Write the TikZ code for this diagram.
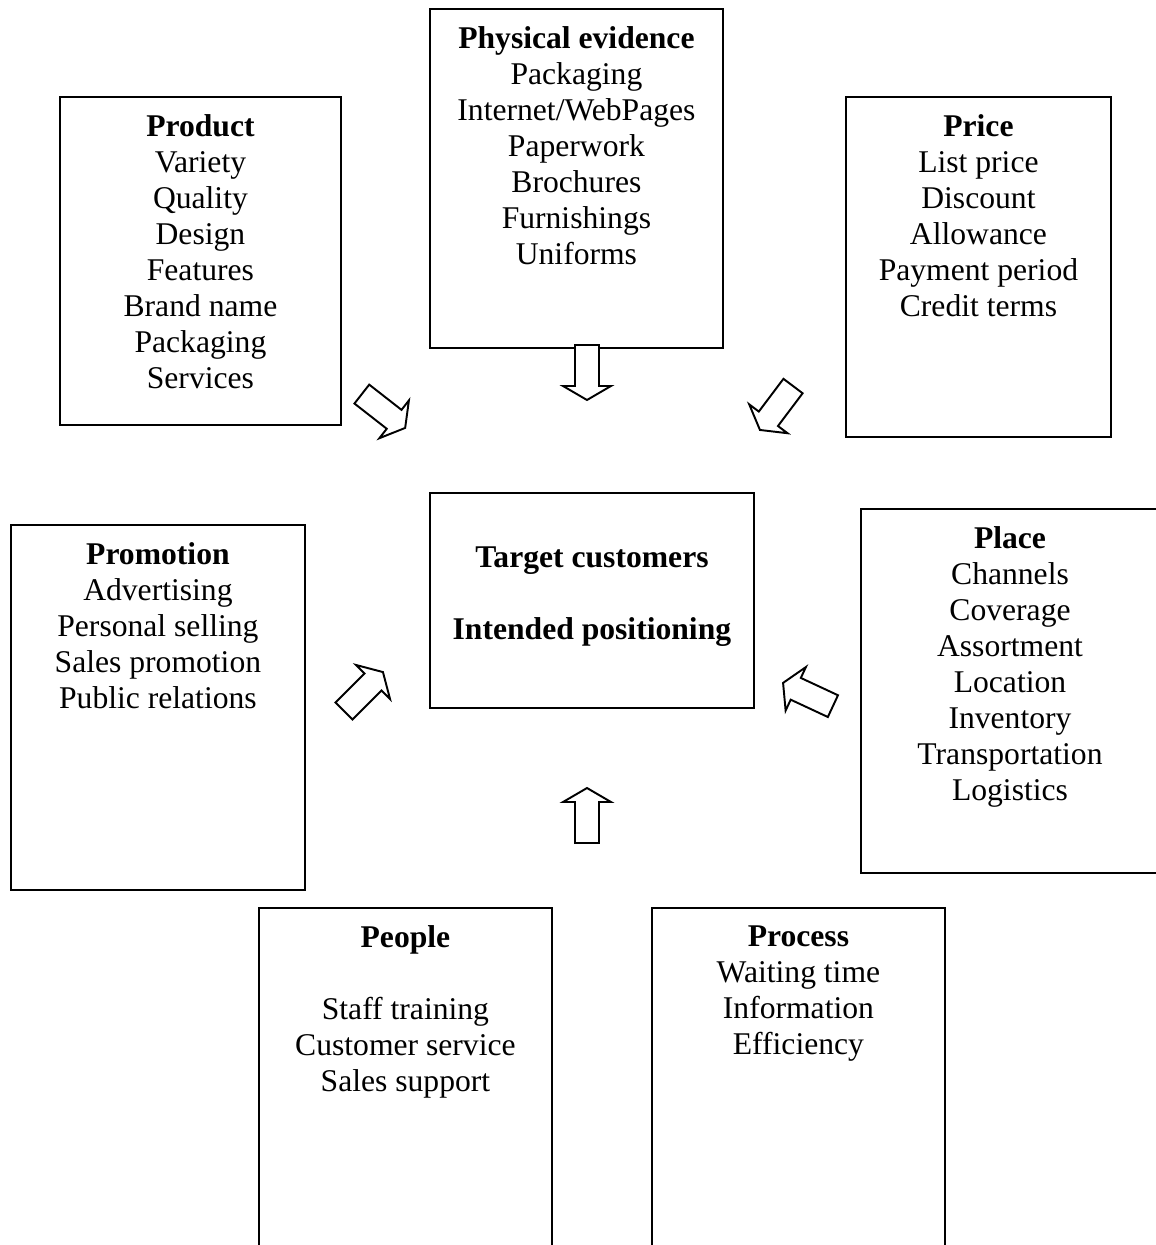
\documentclass[tikz,border=0pt]{standalone}
\usepackage{fontspec}
\setmainfont{Liberation Serif}
\usetikzlibrary{positioning}
\tikzset{
  block/.style={rectangle, draw=black, line width=1.1pt, fill=white, inner sep=0pt, anchor=north west},
  blocktext/.style={align=center, inner sep=0pt, anchor=north, font=\fontsize{18}{20.5}\selectfont},
  arrowline/.style={draw=black, line width=1.1pt, fill=white, line join=miter},
  blockarrow/.pic={
    \draw[arrowline] (-0.55cm,-0.24cm) -- (0.27cm,-0.24cm) -- (0.27cm,-0.48cm) -- (0.55cm,0cm)
      -- (0.27cm,0.48cm) -- (0.27cm,0.24cm) -- (-0.55cm,0.24cm) -- cycle;
  },
}

\begin{document}
\begin{tikzpicture}[x=0.02cm, y=-0.02cm]
\useasboundingbox (0,0) rectangle (1156,1245);
\clip (0,0) rectangle (1156,1245);
\fill[white] (0,0) rectangle (1156,1245);

% the eight boxes
\node[block, minimum width=5.62cm, minimum height=6.56cm] (product) at (59,96) {};
\node[block, minimum width=5.86cm, minimum height=6.78cm] (physev) at (429,8) {};
\node[block, minimum width=5.30cm, minimum height=6.80cm] (price) at (845,96) {};
\node[block, minimum width=6.48cm, minimum height=4.30cm] (target) at (429,492) {};
\node[block, minimum width=5.88cm, minimum height=7.30cm] (promotion) at (10,524) {};
\node[block, minimum width=6.20cm, minimum height=7.28cm] (place) at (860,508) {};
\node[block, minimum width=5.86cm, minimum height=7.20cm] (people) at (258,907) {};
\node[block, minimum width=5.86cm, minimum height=7.20cm] (process) at (651,907) {};

% texts
\node[blocktext] (product text) at ([yshift=-0.36cm]product.north)
  {\textbf{Product}\\Variety\\Quality\\Design\\Features\\Brand name\\Packaging\\Services};
\node[blocktext] (physev text) at ([yshift=-0.36cm]physev.north)
  {\textbf{Physical evidence}\\Packaging\\Internet/WebPages\\Paperwork\\Brochures\\Furnishings\\Uniforms};
\node[blocktext] (price text) at ([yshift=-0.36cm]price.north)
  {\textbf{Price}\\List price\\Discount\\Allowance\\Payment period\\Credit terms};
\node[blocktext] (target text) at ([yshift=-1.08cm]target.north)
  {\textbf{Target customers}\\[20.5pt]\textbf{Intended positioning}};
\node[blocktext] (promotion text) at ([yshift=-0.36cm]promotion.north)
  {\textbf{Promotion}\\Advertising\\Personal selling\\Sales promotion\\Public relations};
\node[blocktext] (place text) at (1010,526)
  {\textbf{Place}\\Channels\\Coverage\\Assortment\\Location\\Inventory\\Transportation\\Logistics};
\node[blocktext] (people text) at ([yshift=-0.36cm]people.north)
  {\textbf{People}\\[20.5pt]Staff training\\Customer service\\Sales support};
\node[blocktext] (process text) at ([yshift=-0.36cm]process.north)
  {\textbf{Process}\\Waiting time\\Information\\Efficiency};

% block arrows towards the centre
\pic[rotate=-38] (arr product) at (383.5,411) {blockarrow};
\pic[rotate=-90] (arr physev) at (587,372.5) {blockarrow};
\pic[rotate=-127] (arr price) at (776.5,408) {blockarrow};
\pic[rotate=45] (arr promotion) at (363.5,691.5) {blockarrow};
\pic[rotate=155] (arr place) at (808,694.5) {blockarrow};
\pic[rotate=90] (arr people) at (587,815.5) {blockarrow};
\end{tikzpicture}
\end{document}
